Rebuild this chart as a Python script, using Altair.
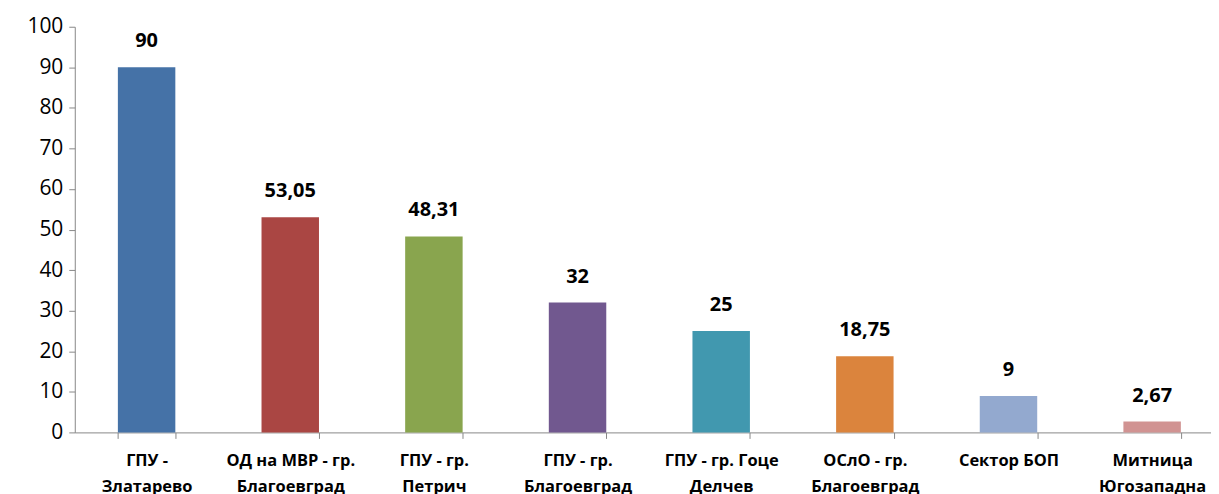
import altair as alt
import pandas as pd

categories = [
    "ГПУ -|Златарево",
    "ОД на МВР - гр.|Благоевград",
    "ГПУ - гр.|Петрич",
    "ГПУ - гр.|Благоевград",
    "ГПУ - гр. Гоце|Делчев",
    "ОСлО - гр.|Благоевград",
    "Сектор БОП",
    "Митница|Югозападна",
]
values = [90, 53.05, 48.31, 32, 25, 18.75, 9, 2.67]
value_labels = ["90", "53,05", "48,31", "32", "25", "18,75", "9", "2,67"]
colors = ["#4572A7", "#AA4643", "#89A54E", "#71588F", "#4198AF", "#DB843D", "#93A9CF", "#D19392"]

df = pd.DataFrame({"cat": categories, "val": values, "lbl": value_labels})

x = alt.X(
    "cat:N",
    sort=categories,
    scale=alt.Scale(paddingInner=0.6, paddingOuter=0.3, range=[0, 1153]),
    axis=alt.Axis(
        title=None,
        labelAngle=0,
        labelExpr="isString(datum.value) ? split(datum.value, '|') : ''",
        labelFont="Open Sans",
        labelFontWeight="bold",
        labelFontSize=16.5,
        labelColor="#000000",
        labelLineHeight=26,
        labelPadding=14,
        labelBaseline="top",
        tickBand="extent",
        tickSize=6,
        tickColor="#888888",
        domainColor="#888888",
        labelLimit=200,
    ),
)

base = alt.Chart(df)

bars = base.mark_bar().encode(
    x=x,
    y=alt.Y(
        "val:Q",
        scale=alt.Scale(domain=[0, 100], nice=False),
        axis=alt.Axis(
            title=None,
            values=list(range(0, 101, 10)),
            grid=False,
            labelFont="Open Sans",
            labelFontSize=21,
            labelColor="#000000",
            labelPadding=6,
            tickSize=6,
            tickColor="#888888",
            domainColor="#888888",
        ),
    ),
    color=alt.Color("cat:N", sort=categories, scale=alt.Scale(domain=categories, range=colors), legend=None),
)

text = base.mark_text(
    font="Open Sans", fontWeight="bold", fontSize=20, baseline="bottom", dy=-16, color="#000000"
).encode(
    x=alt.X("cat:N", sort=categories),
    y="val:Q",
    text="lbl:N",
)

chart = (
    alt.layer(bars, text)
    .properties(
        width=1140,
        height=407,
        padding={"left": 67, "top": 18, "right": 0, "bottom": 61},
        autosize=alt.AutoSizeParams(type="none"),
        background="#ffffff",
    )
    .configure_view(stroke=None)
)

chart.save("out.html", embed_options={"renderer": "svg", "actions": False})
